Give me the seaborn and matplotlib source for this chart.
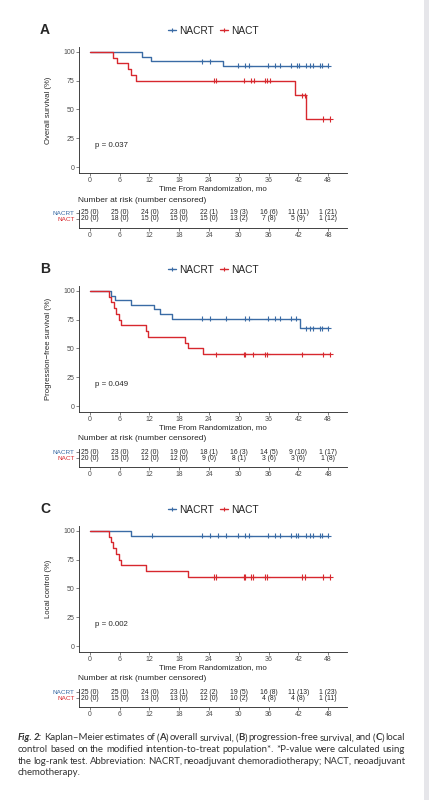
"""Kaplan-Meier panels (OS, PFS, local control) with number-at-risk tables."""
import matplotlib

matplotlib.use("Agg")
import matplotlib.pyplot as plt
import numpy as np
import pandas as pd
import seaborn as sns
from matplotlib.lines import Line2D
from matplotlib.patches import Rectangle

sns.set_theme(style="ticks")
plt.rcParams["font.family"] = ["Liberation Sans", "DejaVu Sans"]

BLUE = "#3A6BA5"
RED = "#D7282E"
GROUPS = ["NACRT", "NACT"]
PALETTE = {"NACRT": BLUE, "NACT": RED}
TIME_TICKS = [0, 6, 12, 18, 24, 30, 36, 42, 48]
Y_TICKS = [0, 25, 50, 75, 100]

# ---- (A) overall survival
os_nacrt_t = [10.4, 12.4, 26.9]
os_nacrt_s = [96, 92, 88]
os_nacrt_cens = [22.6, 24.1, 29.8, 31.3, 32.1, 35.8, 37.3, 38.2, 40.6, 41.8,
                 42.1, 43.6, 44.4, 44.9, 46.3, 46.7, 48.0]
os_nact_t = [4.7, 5.4, 7.7, 8.3, 9.3, 41.3, 43.6]
os_nact_s = [95, 90, 85, 80, 75, 62.5, 41.7]
os_nact_cens = [25.0, 25.5, 31.0, 32.5, 33.0, 35.2, 35.7, 36.2, 42.8, 43.3,
                46.9, 48.4]
os_risk_nacrt = [25, 25, 24, 23, 22, 19, 16, 11, 1]
os_cens_nacrt = [0, 0, 0, 0, 1, 3, 6, 11, 21]
os_risk_nact = [20, 18, 15, 15, 15, 13, 7, 5, 1]
os_cens_nact = [0, 0, 0, 0, 0, 2, 8, 9, 12]

# ---- (B) progression-free survival
pfs_nacrt_t = [4.3, 5.1, 8.3, 12.9, 14.2, 16.5, 42.3]
pfs_nacrt_s = [96, 92, 88, 84, 80, 76, 67.6]
pfs_nacrt_cens = [22.6, 24.1, 27.5, 31.3, 32.1, 35.8, 37.3, 38.2, 40.6, 41.5,
                  43.6, 44.4, 44.9, 46.3, 46.7, 48.0]
pfs_nact_t = [3.8, 4.3, 4.8, 5.3, 5.8, 6.3, 11.3, 11.8, 19.2, 19.8, 22.8]
pfs_nact_s = [95, 90, 85, 80, 75, 70, 65, 60, 55, 50, 45]
pfs_nact_cens = [25.4, 31.0, 31.3, 32.9, 35.2, 35.7, 42.8, 46.9, 48.4]
pfs_risk_nacrt = [25, 23, 22, 19, 18, 16, 14, 9, 1]
pfs_cens_nacrt = [0, 0, 0, 0, 1, 3, 5, 10, 17]
pfs_risk_nact = [20, 15, 12, 12, 9, 8, 3, 3, 1]
pfs_cens_nact = [0, 0, 0, 0, 0, 1, 6, 6, 8]

# ---- (C) local control
lc_nacrt_t = [8.3]
lc_nacrt_s = [96]
lc_nacrt_cens = [12.5, 22.6, 24.1, 25.9, 27.5, 29.8, 31.3, 32.1, 35.8, 37.3,
                 38.2, 40.6, 41.5, 41.9, 43.6, 44.4, 44.9, 46.3, 46.7, 48.0]
lc_nact_t = [3.8, 4.3, 4.6, 5.3, 5.8, 6.3, 11.3, 19.8]
lc_nact_s = [95, 90, 85, 80, 75, 70, 65, 60]
lc_nact_cens = [25.0, 25.5, 31.0, 31.3, 32.5, 32.9, 35.2, 35.7, 42.8, 43.3,
                46.9, 48.4]
lc_risk_nacrt = [25, 25, 24, 23, 22, 19, 16, 11, 1]
lc_cens_nacrt = [0, 0, 0, 1, 2, 5, 8, 13, 23]
lc_risk_nact = [20, 15, 13, 13, 12, 10, 4, 4, 1]
lc_cens_nact = [0, 0, 0, 0, 0, 2, 8, 8, 11]

PANELS = [
    dict(tag="A", ylabel="Overall survival (%)", p="p = 0.037", top=47,
         curves={"NACRT": (os_nacrt_t, os_nacrt_s, os_nacrt_cens),
                 "NACT": (os_nact_t, os_nact_s, os_nact_cens)},
         risk={"NACRT": (os_risk_nacrt, os_cens_nacrt),
               "NACT": (os_risk_nact, os_cens_nact)}),
    dict(tag="B", ylabel="Progression\u2212free survival (%)", p="p = 0.049", top=286,
         curves={"NACRT": (pfs_nacrt_t, pfs_nacrt_s, pfs_nacrt_cens),
                 "NACT": (pfs_nact_t, pfs_nact_s, pfs_nact_cens)},
         risk={"NACRT": (pfs_risk_nacrt, pfs_cens_nacrt),
               "NACT": (pfs_risk_nact, pfs_cens_nact)}),
    dict(tag="C", ylabel="Local control (%)", p="p = 0.002", top=526,
         curves={"NACRT": (lc_nacrt_t, lc_nacrt_s, lc_nacrt_cens),
                 "NACT": (lc_nact_t, lc_nact_s, lc_nact_cens)},
         risk={"NACRT": (lc_risk_nacrt, lc_cens_nacrt),
               "NACT": (lc_risk_nact, lc_cens_nact)}),
]

CAPTION_LINES = [
    "**Fig. 2:** Kaplan\u2013Meier estimates of (**A**) overall survival, (**B**) "
    "progression-free survival, and (**C**) local",
    "control based on the modified intention-to-treat population*. *P-value "
    "were calculated using",
    "the log-rank test. Abbreviation: NACRT, neoadjuvant chemoradiotherapy; "
    "NACT, neoadjuvant",
    "chemotherapy.",
]

W, H = 429, 800
XLIM = (-2.2, 51.8)
YLIM = (-5.2, 104.3)
AX_LEFT, AX_RIGHT = 79, 347
SPINE = "#333333"


def px_box(left, top, right, bottom):
    return [left / W, 1 - bottom / H, (right - left) / W, (bottom - top) / H]


def step_frame(curves):
    rows = []
    for grp, (times, surv, cens) in curves.items():
        end = max(cens[-1], times[-1])
        xs = [0] + list(times) + [end]
        ys = [100] + list(surv) + [surv[-1]]
        rows += [{"time": x, "surv": y, "group": grp} for x, y in zip(xs, ys)]
    return pd.DataFrame(rows)


def censor_frame(curves):
    rows = []
    for grp, (times, surv, cens) in curves.items():
        levels = np.r_[100, surv]
        idx = np.searchsorted(times, cens, side="right")
        rows += [{"time": c, "surv": levels[i], "group": grp} for c, i in zip(cens, idx)]
    return pd.DataFrame(rows)


def style_axis(ax, size=5.0):
    sns.despine(ax=ax)
    for side in ("left", "bottom"):
        ax.spines[side].set_color(SPINE)
        ax.spines[side].set_linewidth(0.65)
    ax.tick_params(labelsize=size, length=2, width=0.5, pad=1, colors="#4D4D4D",
                   labelcolor="#4D4D4D")


def draw_panel(fig, panel):
    top = panel["top"]
    bottom = top + 126
    ax = fig.add_axes(px_box(AX_LEFT, top, AX_RIGHT, bottom))
    sns.lineplot(data=step_frame(panel["curves"]), x="time", y="surv", hue="group",
                 hue_order=GROUPS, palette=PALETTE, drawstyle="steps-post",
                 estimator=None, sort=False, lw=1.0, legend=False, ax=ax)
    sns.scatterplot(data=censor_frame(panel["curves"]), x="time", y="surv",
                    hue="group", hue_order=GROUPS, palette=PALETTE, marker="+",
                    s=14, linewidth=0.8, legend=False, ax=ax, zorder=3)
    ax.set_xlim(*XLIM)
    ax.set_ylim(*YLIM)
    ax.set_xticks(TIME_TICKS)
    ax.set_yticks(Y_TICKS)
    style_axis(ax)
    ax.set_xlabel("Time From Randomization, mo", fontsize=5.7, labelpad=0.5)
    ax.set_ylabel(panel["ylabel"], fontsize=5.6)
    ax.yaxis.set_label_coords((52 - AX_LEFT) / (AX_RIGHT - AX_LEFT), 0.5)
    ax.text(1, 19, panel["p"], fontsize=5.7, ha="left", va="center")

    # panel tag and legend above the axes
    fig.text(45 / W, 1 - (top - 17) / H, panel["tag"], fontsize=10,
             fontweight="bold", ha="center", va="center")
    handles = [Line2D([0], [0], color=PALETTE[g], lw=1.0, marker="+",
                      markersize=3.5, markeredgewidth=0.8) for g in GROUPS]
    fig.legend(handles, GROUPS, loc="center",
               bbox_to_anchor=(213 / W, 1 - (top - 16) / H), ncol=2, frameon=False,
               fontsize=7.3, handlelength=0.8, handletextpad=0.3, columnspacing=0.6,
               borderpad=0, borderaxespad=0)

    # number-at-risk table
    axis_y = bottom + 55
    fig.text(78 / W, 1 - (bottom + 27) / H, "Number at risk (number censored)",
             fontsize=6.0, ha="left", va="center")
    ar = fig.add_axes(px_box(AX_LEFT, axis_y - 18, AX_RIGHT, axis_y))
    ar.set_xlim(*XLIM)
    ar.set_ylim(-0.5, 2.5)
    ar.set_facecolor("none")
    ar.set_xticks(TIME_TICKS)
    ar.set_yticks([1, 2])
    ar.set_yticklabels(["NACT", "NACRT"])
    style_axis(ar, size=4.9)
    ar.tick_params(axis="y", labelsize=4.6)
    for lab in ar.get_yticklabels():
        lab.set_color(PALETTE[lab.get_text()])
    for row, grp in ((2, "NACRT"), (1, "NACT")):
        at_risk, censored = panel["risk"][grp]
        for t, n, c in zip(TIME_TICKS, at_risk, censored):
            ar.text(t, row, f"{n} ({c})", fontsize=4.9, ha="center", va="center",
                    color="#222222")


def draw_caption(fig, lines, left=18, right=405, first_y=738, step=11.5, size=6.9):
    renderer = fig.canvas.get_renderer()
    kw = dict(fontsize=size, family=["Lato", "DejaVu Sans"], color="#333333")

    def run_style(bold, text):
        style = "italic" if bold and text.startswith(("Fig", "2:")) else "normal"
        return dict(fontweight="bold" if bold else "normal", fontstyle=style)

    def width(text, bold):
        t = fig.text(0, 0, text, **kw, **run_style(bold, text))
        w = t.get_window_extent(renderer).width
        t.remove()
        return w

    for i, line in enumerate(lines):
        # split into words made of (text, bold) runs
        words, cur = [], []
        for k, seg in enumerate(line.split("**")):
            bold = k % 2 == 1
            parts = seg.split(" ")
            for j, part in enumerate(parts):
                if j > 0:
                    if cur:
                        words.append(cur)
                    cur = []
                if part:
                    cur.append((part, bold))
        if cur:
            words.append(cur)
        widths = [[width(t, b) for t, b in wd] for wd in words]
        total = sum(sum(w) for w in widths)
        space = width("a a", False) - 2 * width("a", False)
        last = i == len(lines) - 1
        gap = space if last else (right - left - total) / max(len(words) - 1, 1)
        x = left
        y = 1 - (first_y + i * step) / H
        for wd, ws in zip(words, widths):
            for (t, b), w in zip(wd, ws):
                fig.text(x / W, y, t, ha="left", va="center", **kw, **run_style(b, t))
                x += w
            x += gap


fig = plt.figure(figsize=(W / 100, H / 100), dpi=100)
fig.patch.set_facecolor("white")
for panel in PANELS:
    draw_panel(fig, panel)
draw_caption(fig, CAPTION_LINES)
fig.patches.append(Rectangle((424 / W, 0), 5 / W, 1, transform=fig.transFigure,
                             facecolor="#E6E6EA", edgecolor="none"))
fig.savefig("out.png", dpi=100)
